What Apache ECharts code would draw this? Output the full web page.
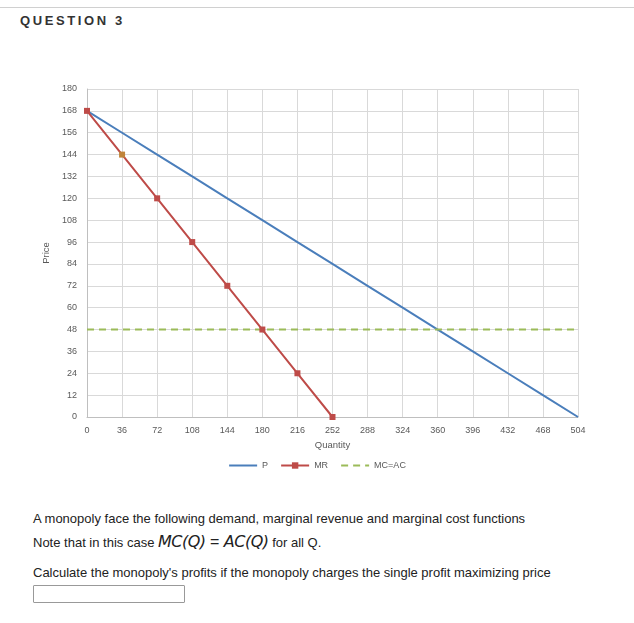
<!DOCTYPE html>
<html><head><meta charset="utf-8">
<script src="https://cdn.jsdelivr.net/npm/echarts@6/dist/echarts.min.js"></script>
<style>
html,body{margin:0;padding:0;background:#fff;width:634px;height:623px;overflow:hidden;font-family:"Liberation Sans",Arial,sans-serif;}
#topline{position:absolute;left:0;top:7px;width:634px;height:1px;background:#d0d0d0;}
#title{position:absolute;left:20px;top:13px;font-size:13px;font-weight:bold;letter-spacing:2.6px;color:#333;}
#chart{position:absolute;left:0;top:0;width:634px;height:490px;}
.txt{position:absolute;left:33px;font-size:13px;color:#222;white-space:nowrap;}
.math{font-family:"DejaVu Sans",sans-serif;font-style:italic;font-size:16px;font-weight:normal;letter-spacing:-0.5px;}
#box{position:absolute;left:33px;top:585px;width:150px;height:16px;border:1px solid #999;border-radius:1px;}
</style></head>
<body>
<div id="topline"></div>
<div id="title">QUESTION 3</div>
<div id="chart"></div>
<div class="txt" style="top:511px">A monopoly face the following demand, marginal revenue and marginal cost functions</div>
<div class="txt" style="top:532px">Note that in this case <span class="math">MC(Q)</span><span style="font-size:16px"> = </span><span class="math">AC(Q)</span> for all Q.</div>
<div class="txt" style="top:565px">Calculate the monopoly's profits if the monopoly charges the single profit maximizing price</div>
<div id="box"></div>
<script>
const quantityP = [0, 36, 72, 108, 144, 180, 216, 252, 288, 324, 360, 396, 432, 468, 504];
const priceP = [168, 156, 144, 132, 120, 108, 96, 84, 72, 60, 48, 36, 24, 12, 0];
const quantityMR = [0, 36, 72, 108, 144, 180, 216, 252];
const valuesMR = [168, 144, 120, 96, 72, 48, 24, 0];
const quantityMC = [0, 504];
const valuesMC = [48, 48];

const chart = echarts.init(document.getElementById('chart'));
const lbl = {color:'#595959', fontSize:9, fontFamily:'Liberation Sans, Arial, sans-serif'};
chart.setOption({
  animation:false,
  grid:{left:87, right:56, top:89, bottom:73, containLabel:false},
  legend:{
    bottom:15, left:'center', itemGap:12, itemWidth:28, itemHeight:8,
    textStyle:{color:'#595959', fontSize:9},
    data:[{name:'P', itemStyle:{opacity:0}},'MR',{name:'MC=AC', itemStyle:{opacity:0}}]
  },
  xAxis:{
    type:'value', min:0, max:504, interval:36,
    name:'Quantity', nameLocation:'middle', nameGap:20,
    nameTextStyle:{color:'#595959', fontSize:9.5},
    axisLine:{show:true, lineStyle:{color:'#bfbfbf'}},
    axisTick:{show:false},
    axisLabel:Object.assign({margin:9}, lbl),
    splitLine:{show:true, lineStyle:{color:'#d9d9d9'}}
  },
  yAxis:{
    type:'value', min:0, max:180, interval:12,
    name:'Price', nameLocation:'middle', nameGap:20, nameRotate:90,
    nameTextStyle:{color:'#595959', fontSize:9.5},
    axisLine:{show:true, lineStyle:{color:'#bfbfbf'}},
    axisTick:{show:false},
    axisLabel:Object.assign({margin:10}, lbl),
    splitLine:{show:true, lineStyle:{color:'#d9d9d9'}}
  },
  series:[
    {name:'P', type:'line', showSymbol:false, symbol:'none',
     data:quantityP.map((q,i)=>[q, priceP[i]]),
     lineStyle:{color:'#4a7ebb', width:2}, itemStyle:{color:'#4a7ebb'}},
    {name:'MR', type:'line', symbol:'rect', symbolSize:6,
     data:quantityMR.map((q,i)=>i===1?{value:[q, valuesMR[i]], itemStyle:{color:'#c0843a'}}:[q, valuesMR[i]]),
     lineStyle:{color:'#be4b48', width:2}, itemStyle:{color:'#be4b48'}},
    {name:'MC=AC', type:'line', symbol:'none',
     data:quantityMC.map((q,i)=>[q, valuesMC[i]]),
     lineStyle:{color:'#9bbb59', width:2, type:[7,5]}, itemStyle:{color:'#9bbb59'}}
  ]
});
</script>
</body></html>
